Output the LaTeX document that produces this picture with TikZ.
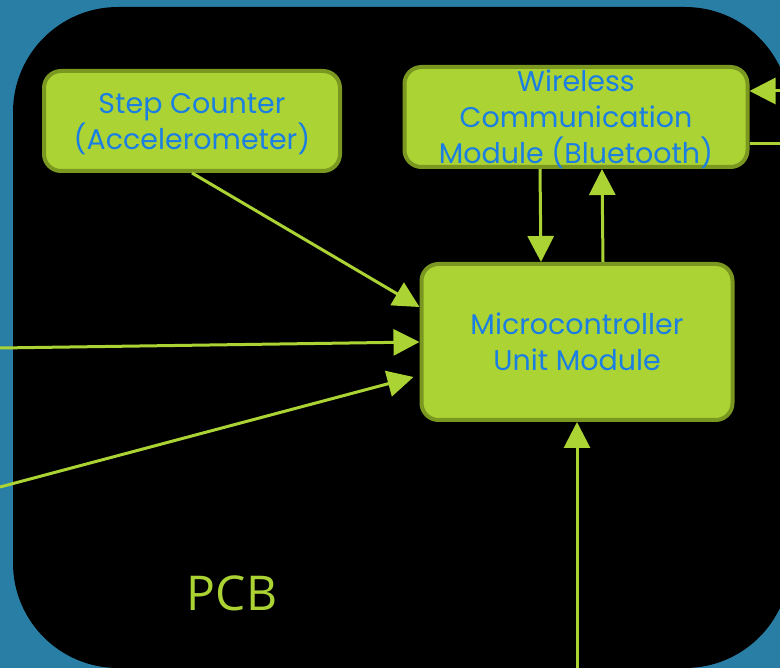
\documentclass[tikz,border=0pt]{standalone}
\usepackage{fontspec}
\setmainfont{Poppins}
\newfontfamily\pcbfont{Open Sans}
\usetikzlibrary{arrows.meta}

\definecolor{slide}{RGB}{41,126,165}
\definecolor{lime}{RGB}{172,211,52}
\definecolor{limedark}{RGB}{122,152,32}
\definecolor{label}{RGB}{27,126,226}

\begin{document}
\begin{tikzpicture}[x=1pt,y=-1pt,
    block/.style={draw=limedark, fill=lime, line width=4pt, rounded corners=17pt,
      inner sep=0pt, align=center, text=label, text depth=0pt,
      font=\fontsize{28.5}{36}\selectfont},
    flow/.style={draw=lime, line width=3pt,
      -{Triangle[length=26pt,width=26pt]}}]
    \useasboundingbox (0,0) rectangle (780,668);
    \fill[slide] (0,0) rectangle (780,668);
    % board outline
    \fill[black, rounded corners=105pt] (13,7) rectangle (790,668);
    \node[text=lime, font=\pcbfont\fontsize{48}{48}\selectfont] at (232,593) (pcb) {PCB};

    \node[block, minimum width=296pt, minimum height=100pt] at (192,121) (steps)
        {Step Counter\\(Accelerometer)};
    \node[block, minimum width=343pt, minimum height=100pt] at (576,117) (wifi)
        {Wireless\\Communication\\Module (Bluetooth)};
    \node[block, minimum width=311pt, minimum height=156pt] at (577,342) (mcu)
        {Microcontroller\\Unit Module};

    % loose ends leaving the board
    \coordinate (inA) at (0,348);
    \coordinate (inB) at (0,487);
    \coordinate (inC) at (577,668);
    \coordinate (btIn) at (780,91);
    \coordinate (btOut) at (780,144);

    \draw[flow] (steps.south) -- ([yshift=35pt]mcu.west);
    \draw[flow] (inA) -- (mcu.west);
    \draw[flow] (inB) -- ([xshift=-6pt,yshift=-35pt]mcu.west);
    \draw[flow] (inC) -- (mcu.south);
    \draw[flow] ([xshift=-36pt]wifi.south) -- ([xshift=-36pt]mcu.north);
    \draw[flow] ([xshift=26pt]mcu.north) -- ([xshift=26pt]wifi.south);
    \draw[flow] (btIn) -- ([yshift=26pt]wifi.east);
    \draw[flow, -] ([yshift=-27pt]wifi.east) -- (btOut);
\end{tikzpicture}
\end{document}
